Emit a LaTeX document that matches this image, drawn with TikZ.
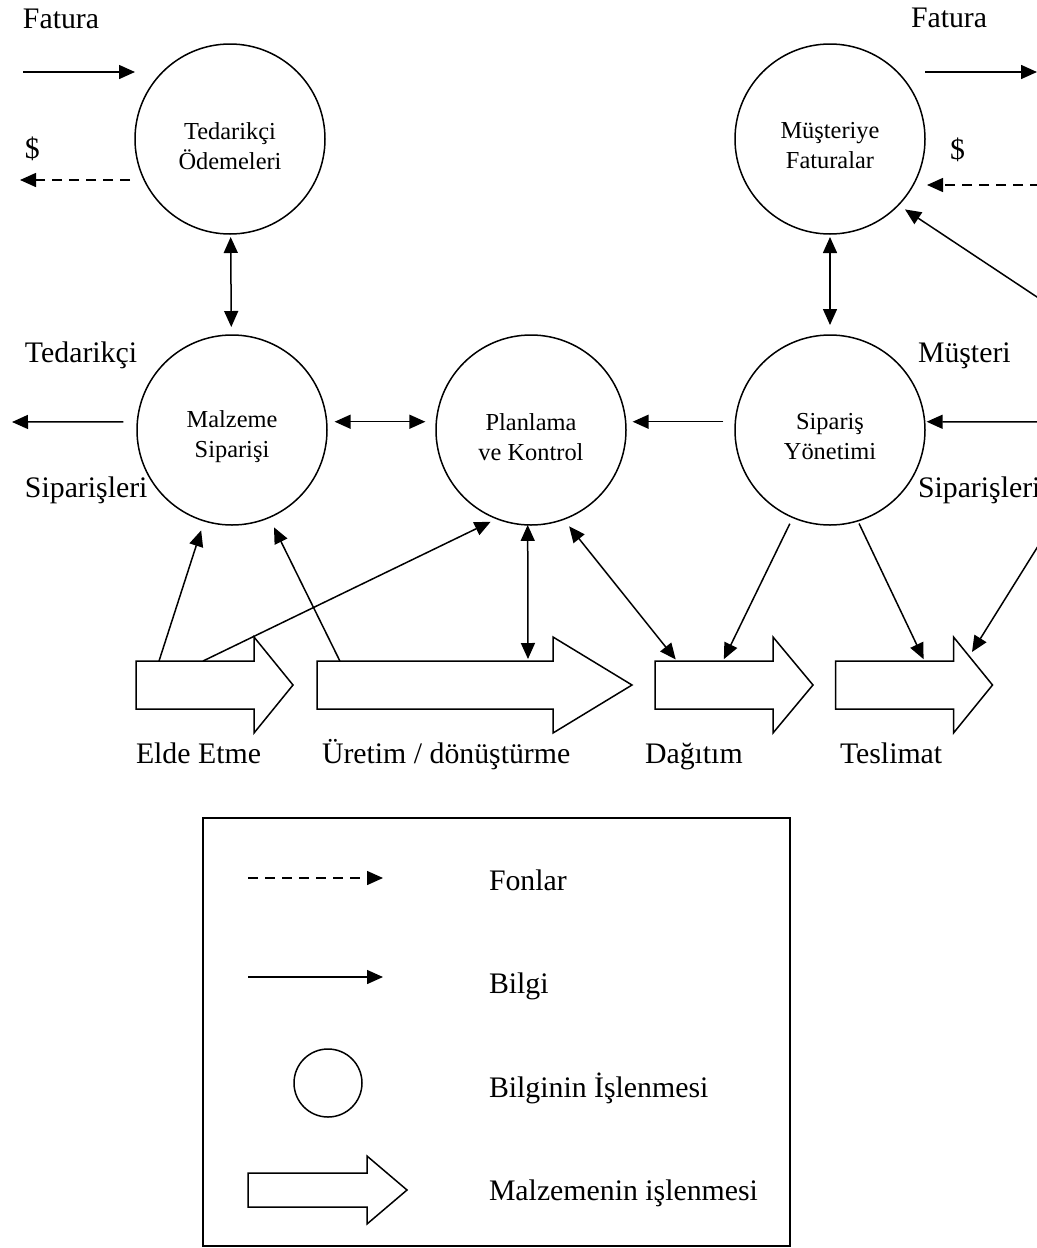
\documentclass[tikz,border=0pt]{standalone}
\usepackage{fontspec}
\setmainfont{Liberation Serif}
\usetikzlibrary{arrows.meta,calc}

% outline of a material-flow block arrow built on a body node:
% #1 body node, #2 head overhang, #3 head length
\newcommand\matflow[3]{%
  \draw[line width=0.75pt] (#1.north west) -- (#1.north east) -- ++(0,-#2)
    -- ($(#1.east)+(#3,0)$) -- ($(#1.south east)+(0,#2)$)
    -- (#1.south east) -- (#1.south west) -- cycle;}

\begin{document}
\begin{tikzpicture}[x=0.5pt,y=-0.5pt,
  every node/.style={inner sep=0pt, outer sep=0pt},
  lbl/.style={anchor=base west, font=\fontsize{14.9}{17}\selectfont},
  proc/.style={draw, circle, minimum size=95pt, line width=0.75pt},
  ptext/.style={align=center, font=\fontsize{12.2}{15}\selectfont, yshift=-3.5pt},
  info/.style={line width=0.75pt, -{Triangle[length=8pt,width=7pt]}},
  infob/.style={line width=0.75pt, {Triangle[length=8pt,width=7pt]}-{Triangle[length=8pt,width=7pt]}},
  fund/.style={info, dash pattern=on 5pt off 3.5pt},
  body/.style={minimum height=24pt, minimum width=59pt},
]
\useasboundingbox (0,0) rectangle (1037,1248);
\fill[white] (0,0) rectangle (1037,1248);

% information processing circles
\node[proc, label={[ptext]center:Tedarikçi\\Ödemeleri}] (pay)  at (230,139) {};
\node[proc, label={[ptext]center:Müşteriye\\Faturalar}] (bill) at (830,139) {};
\node[proc, label={[ptext]center:Malzeme\\Siparişi}]    (mat)  at (232,430) {};
\node[proc, label={[ptext]center:Planlama\\ve Kontrol}] (plan) at (531,430) {};
\node[proc, label={[ptext]center:Sipariş\\Yönetimi}]    (ord)  at (830,430) {};

% material flow bodies
\node[body] (elde) at (195,685) {};
\node[body, minimum width=118pt] (uretim) at (435,685) {};
\node[body] (dagitim) at (714,685) {};
\node[body] (teslimat) at (894.5,685) {};
\matflow{elde}{24}{39}
\matflow{uretim}{24}{79}
\matflow{dagitim}{24}{40}
\matflow{teslimat}{24}{39}

% outer labels
\node[lbl] (fatL) at (23,28) {Fatura};
\node[lbl] (dolL) at (25,158) {\$};
\node[lbl] (fatR) at (911,27) {Fatura};
\node[lbl] (dolR) at (950,159) {\$};
\node[lbl] (tedL) at (25,362) {Tedarikçi};
\node[lbl] (sipL) at (25,497) {Siparişleri};
\node[lbl] (musR) at (918,362) {Müşteri};
\node[lbl] (sipR) at (918,497) {Siparişleri};
\node[lbl] (lElde) at (136,763) {Elde Etme};
\node[lbl] (lUre)  at (322,763) {Üretim / dönüştürme};
\node[lbl] (lDag)  at (645,763) {Dağıtım};
\node[lbl] (lTes)  at (840,763) {Teslimat};

% free ends of the outside flows
\coordinate (payIn)  at (23,72);
\coordinate (payOut) at (20,180);
\coordinate (billOut) at (1037,72);
\coordinate (billIn)  at (1040,185);
\coordinate (custB)   at (1040,299);
\coordinate (supL)    at (12,422);
\coordinate (custO)   at (1040,422);
\coordinate (custT)   at (1040,543);
\coordinate (tesIn)   at (972,652);

% supplier side
\draw[info] (payIn) -- (payIn -| pay.west);
\draw[fund] ($(payOut -| pay.west)+(-5,0)$) -- (payOut);
\draw[infob, shorten <=1.5pt, shorten >=4pt] (pay) -- (mat);
\draw[info, shorten <=7pt] (mat.175) -- (supL);

% customer side
\draw[info] (billOut -| bill.east) -- (billOut);
\draw[fund] (billIn) -- ($(billIn -| bill.east)+(2,0)$);
\draw[info, shorten >=4pt] (custB) -- (bill.-44);
\draw[infob, shorten <=1.5pt, shorten >=5pt] (bill) -- (ord);
\draw[info, shorten >=1pt] (custO) -- (ord.5);
\draw[info] (custT) -- (tesIn);

% planning links
\draw[infob, shorten <=4pt, shorten >=5.5pt] (mat.5) -- (plan.175);
\draw[info, shorten <=6pt, shorten >=3.5pt] (ord.175) -- (plan.5);

% links between processing and material flow
\draw[info, shorten >=5pt] ($(elde.north west)!0.195!(elde.north east)$) -- (mat.-107);
\draw[info, shorten >=3.5pt] ($(elde.north west)!0.568!(elde.north east)$) -- (plan.-111);
\draw[info, shorten >=5.5pt] ($(uretim.north west)!0.097!(uretim.north east)$) -- (mat.-67);
\draw[infob, shorten >=1pt] (plan.-92) -- ($(uretim.north west)!0.894!(uretim.north east)$);
\draw[infob, shorten <=4.5pt, shorten >=1pt] (plan.-70) -- ($(dagitim.north west)!0.186!(dagitim.north east)$);
\draw[info, shorten <=3.5pt, shorten >=1pt] (ord.-113) -- ($(dagitim.north west)!0.576!(dagitim.north east)$);
\draw[info, shorten <=1.5pt, shorten >=1pt] (ord.-73) -- ($(teslimat.north west)!0.754!(teslimat.north east)$);

% legend
\draw[line width=0.75pt] (203,818) rectangle (790,1246);
\coordinate (fA) at (248,878);
\coordinate (fB) at (383,878);
\coordinate (iA) at (248,977);
\coordinate (iB) at (383,977);
\draw[fund] (fA) -- (fB);
\draw[info] (iA) -- (iB);
\node[draw, circle, minimum size=34pt, line width=0.75pt] (legc) at (328,1083) {};
\node[body, minimum height=17pt, minimum width=59.5pt] (legm) at (307.5,1190) {};
\matflow{legm}{17}{40}
\node[lbl] (tFon) at (489,890)  {Fonlar};
\node[lbl] (tBil) at (489,993)  {Bilgi};
\node[lbl] (tBis) at (489,1097) {Bilginin İşlenmesi};
\node[lbl] (tMis) at (489,1200) {Malzemenin işlenmesi};
\end{tikzpicture}
\end{document}
